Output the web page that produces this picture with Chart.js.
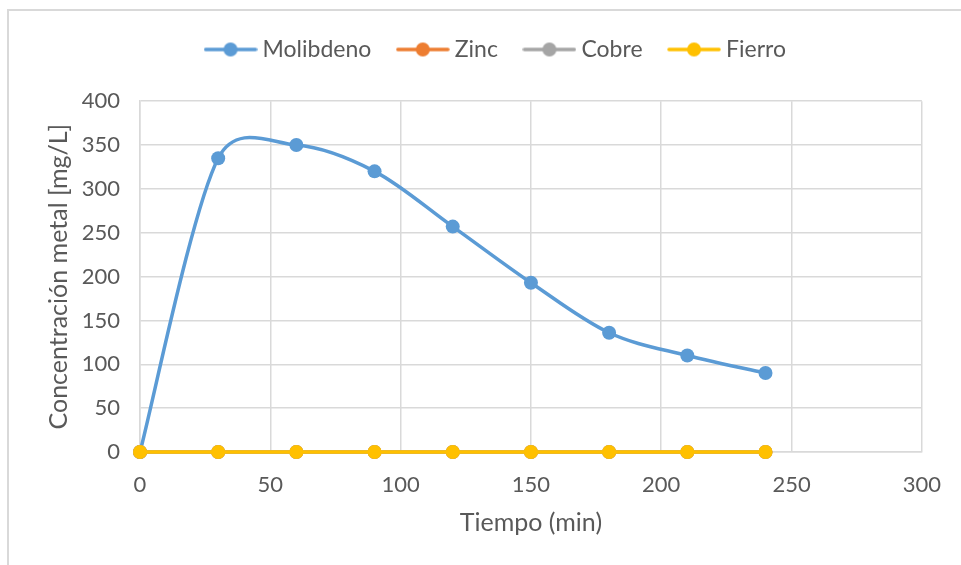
<!DOCTYPE html>
<html>
<head>
<meta charset="utf-8">
<script src="https://cdn.jsdelivr.net/npm/chart.js@4.4.1/dist/chart.umd.min.js"></script>
<style>
  html, body { margin: 0; padding: 0; background: #ffffff; }
  #frame {
    position: absolute; left: 7px; top: 9px; width: 1000px; height: 600px;
    border: 2px solid #d9d9d9; box-sizing: border-box;
  }
  #wrap { position: absolute; left: 0; top: 0; width: 961px; height: 565px; }
</style>
</head>
<body>
<div id="frame"></div>
<div id="wrap"><canvas id="chart" width="961" height="565"></canvas></div>
<script>
// Sampling times (min)
const tiempos = [0, 30, 60, 90, 120, 150, 180, 210, 240];

// Metal concentration per sample (mg/L)
const molibdeno = [0, 335, 350, 320, 257, 193, 136, 110, 90];
const zinc      = [0, 0, 0, 0, 0, 0, 0, 0, 0];
const cobre     = [0, 0, 0, 0, 0, 0, 0, 0, 0];
const fierro    = [0, 0, 0, 0, 0, 0, 0, 0, 0];

const seriesNames = ['Molibdeno', 'Zinc', 'Cobre', 'Fierro'];
const seriesColors = ['#5B9BD5', '#ED7D31', '#A5A5A5', '#FFC000'];

const textColor = '#595959';
const gridColor = '#d9d9d9';
const fontFamily = 'Lato, "Open Sans", sans-serif';

// Legend marker: short line with a dot in the middle
function legendMarker(color) {
  const c = document.createElement('canvas');
  c.width = 54; c.height = 18;
  const g = c.getContext('2d');
  g.strokeStyle = color; g.lineWidth = 3.5; g.lineCap = 'round';
  g.beginPath(); g.moveTo(2, 9); g.lineTo(52, 9); g.stroke();
  g.fillStyle = color;
  g.beginPath(); g.arc(27, 9, 7, 0, Math.PI * 2); g.fill();
  return c;
}

const toXY = arr => arr.map((v, i) => ({ x: tiempos[i], y: v }));
const allValues = [molibdeno, zinc, cobre, fierro];

const datasets = allValues.map((vals, i) => ({
  label: seriesNames[i],
  data: toXY(vals),
  borderColor: seriesColors[i],
  backgroundColor: seriesColors[i],
  borderWidth: 3.5,
  pointRadius: 7,
  pointHoverRadius: 7,
  pointBorderWidth: 0,
  tension: i === 0 ? 0.4 : 0,
  smooth: i === 0,
  order: 3 - i,
  clip: false,
  fill: false,
  pointStyle: 'circle'
}));

const markers = seriesColors.map(legendMarker);

// Smoothed line: Bezier handles along the neighbour chord, length chord/6,
// each side limited to half of its own segment
const smoothLine = {
  id: 'smoothLine',
  beforeDatasetDraw(chart, args) {
    const meta = args.meta;
    const ds = chart.data.datasets[args.index];
    if (!ds.smooth) return;
    meta.dataset.updateControlPoints(chart.chartArea, 'x');
    const pts = meta.data;
    const dist = (a, b) => Math.hypot(b.x - a.x, b.y - a.y);
    for (let i = 0; i < pts.length; i++) {
      const p = pts[i];
      const prev = pts[i - 1] || p;
      const next = pts[i + 1] || p;
      const dx = (next.x - prev.x) / 6;
      const dy = (next.y - prev.y) / 6;
      const h = Math.hypot(dx, dy) || 1;
      const kIn = Math.min(1, dist(prev, p) / 2 / h);
      const kOut = Math.min(1, dist(p, next) / 2 / h);
      p.cp1x = p.x - dx * kIn; p.cp1y = p.y - dy * kIn;
      p.cp2x = p.x + dx * kOut; p.cp2y = p.y + dy * kOut;
    }
    meta.dataset._path = undefined;
  }
};

// Legend sits centred over the whole frame rather than the canvas minus padding
const legendShift = {
  id: 'legendShift',
  afterLayout(chart) {
    const lg = chart.legend;
    if (lg) { lg.left += 37; lg.right += 37; }
  }
};

new Chart(document.getElementById('chart'), {
  type: 'line',
  data: { datasets },
  plugins: [smoothLine, legendShift],
  options: {
    responsive: false,
    animation: false,
    layout: { padding: { top: 7, right: 39, bottom: 0, left: 0 } },
    plugins: {
      tooltip: { enabled: false },
      legend: {
        position: 'top',
        weight: 3000,
        labels: {
          font: { family: fontFamily, size: 23 },
          color: textColor,
          usePointStyle: true,
          pointStyleWidth: 41,
          padding: 31,
          sort: (a, b) => a.datasetIndex - b.datasetIndex,
          generateLabels: chart => chart.data.datasets.map((ds, i) => ({
            text: ds.label,
            datasetIndex: i,
            pointStyle: markers[i],
            fillStyle: ds.borderColor,
            strokeStyle: ds.borderColor,
            lineWidth: 0,
            fontColor: textColor,
            hidden: false
          }))
        }
      },
      title: {
        display: true,
        text: '',
        weight: 500,
        font: { size: 1 },
        padding: { top: 29, bottom: 0 }
      }
    },
    scales: {
      x: {
        type: 'linear',
        min: 0, max: 300,
        ticks: { stepSize: 50, color: textColor, font: { family: fontFamily, size: 22 }, padding: 20 },
        grid: { color: gridColor, lineWidth: 1.5, drawTicks: false },
        border: { color: gridColor, width: 1.5 },
        title: { display: true, text: 'Tiempo (min)', color: textColor, font: { family: fontFamily, size: 25 }, padding: { top: 0, bottom: 27 } },
        afterFit: s => { s.height = 113; }
      },
      y: {
        min: 0, max: 400,
        ticks: { stepSize: 50, color: textColor, font: { family: fontFamily, size: 22 }, padding: 20 },
        grid: { color: gridColor, lineWidth: 1.5, drawTicks: false },
        border: { color: gridColor, width: 1.5 },
        title: { display: true, text: 'Concentración metal [mg/L]', color: textColor, font: { family: fontFamily, size: 25 }, padding: { top: 44, bottom: 0 } },
        afterFit: s => { s.width = 140; }
      }
    }
  }
});
</script>
</body>
</html>
